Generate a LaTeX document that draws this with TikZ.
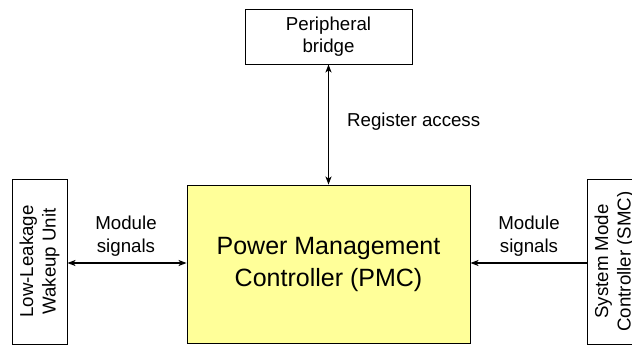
\documentclass[tikz,border=0pt]{standalone}
\usepackage{fontspec}
\setmainfont{Liberation Sans}
\usetikzlibrary{arrows.meta}
\definecolor{pmcyellow}{RGB}{255,255,153}
\begin{document}
\begin{tikzpicture}[x=1pt,y=-1pt,
  box/.style={draw=black, line width=0.9pt, inner sep=0pt},
  smalltxt/.style={font=\fontsize{18.7}{22.5}\selectfont, align=center, inner sep=0pt},
  bigtxt/.style={font=\fontsize{25}{32}\selectfont, align=center, inner sep=0pt},
  conn/.style={line width=1.2pt, {Stealth[length=8pt,width=6pt,inset=2pt]}-{Stealth[length=8pt,width=6pt,inset=2pt]}},
  connone/.style={line width=1.2pt, -{Stealth[length=8pt,width=6pt,inset=2pt]}}]
\useasboundingbox (0,0) rectangle (632,345);
% boxes
\node[box, minimum width=167pt, minimum height=55pt, smalltxt] (pb) at (328.5,36.5) {Peripheral\\bridge};
\node[box, fill=pmcyellow, minimum width=283pt, minimum height=158pt] (pmc) at (328.5,264) {};
\node[bigtxt] (pmct) at (328.5,264) {Power Management\\Controller (PMC)};
\node[box, minimum width=55pt, minimum height=165pt] (llw) at (39.5,261.5) {};
\node[smalltxt, rotate=90] (llwt) at (llw.center) {Low-Leakage\\Wakeup Unit};
\node[box, minimum width=55pt, minimum height=165pt] (smc) at (614.5,261.5) {};
\node[smalltxt, rotate=90] (smct) at (smc.center) {System Mode\\Controller (SMC)};
% connectors
\coordinate (ay) at (0,263);
\draw[conn] (pb.south) -- (pmc.north);
\draw[conn] (llw.east |- ay) -- (pmc.west |- ay);
\draw[connone] (smc.west |- ay) -- (pmc.east |- ay);
% labels
\node[smalltxt, anchor=west] (ra) at (347,122) {Register access};
\node[smalltxt] (ml) at (126,236) {Module\\signals};
\node[smalltxt] (mr) at (529,236) {Module\\signals};
\end{tikzpicture}
\end{document}
